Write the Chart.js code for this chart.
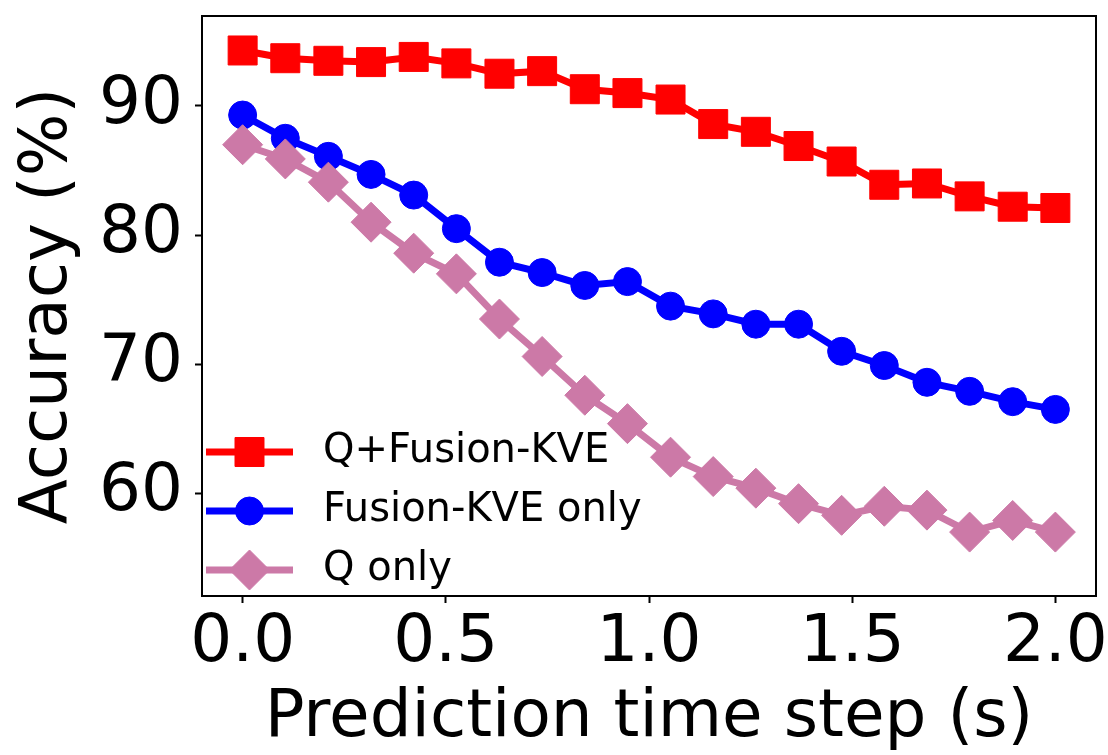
<!DOCTYPE html>
<html lang="en">
<head>
  <meta charset="UTF-8" />
  <title>Accuracy vs prediction time step</title>
  <script src="https://cdn.jsdelivr.net/npm/chart.js"></script>
  <style>
    body { margin: 0; background: #fff; }
    #wrap { width: 1108px; height: 755px; }
  </style>
</head>
<body>
<div id="wrap"><canvas id="accChart" width="1108" height="755"></canvas></div>

<script>
// data
const timeSteps = [0.0, 0.105, 0.211, 0.316, 0.421, 0.526, 0.632, 0.737, 0.842, 0.947,
                   1.053, 1.158, 1.263, 1.368, 1.474, 1.579, 1.684, 1.789, 1.895, 2.0];
const qFusion   = [94.3, 93.7, 93.5, 93.4, 93.8, 93.3, 92.5, 92.7, 91.3, 91.0,
                   90.5, 88.6, 88.0, 86.9, 85.7, 83.9, 84.0, 83.0, 82.2, 82.1];
const fusionOnly = [89.3, 87.5, 86.1, 84.7, 83.1, 80.5, 77.9, 77.1, 76.1, 76.4,
                    74.5, 73.9, 73.1, 73.1, 71.0, 69.9, 68.6, 67.9, 67.1, 66.5];
const qOnly     = [87.0, 85.9, 84.1, 81.0, 78.6, 77.0, 73.5, 70.6, 67.6, 65.4,
                   62.8, 61.3, 60.4, 59.2, 58.3, 59.0, 58.7, 57.0, 57.9, 57.0];
const seriesNames = ['Q+Fusion-KVE', 'Fusion-KVE only', 'Q only'];
const xTicks = [0, 0.5, 1.0, 1.5, 2.0];
const yTicks = [60, 70, 80, 90];
const xMin = -0.1, xMax = 2.1;
const yMin = 52.05, yMax = 96.97;

const FONT = 'DejaVu Sans';

function pts(ys) {
  return timeSteps.map((x, i) => ({ x: x, y: ys[i] }));
}

function series(label, ys, color, style, radius, order) {
  return {
    label: label,
    data: pts(ys),
    borderColor: color,
    backgroundColor: color,
    borderWidth: 7,
    pointStyle: style,
    pointRadius: radius,
    pointHoverRadius: radius,
    pointBorderWidth: 1,
    pointBorderColor: color,
    pointBackgroundColor: color,
    tension: 0,
    clip: false,
    order: order
  };
}

// frame + legend with line-through-marker handles, like matplotlib
const framePlugin = {
  id: 'frameAndLegend',
  afterDraw(chart) {
    const ctx = chart.ctx;
    const a = chart.chartArea;
    ctx.save();
    ctx.strokeStyle = '#000';
    ctx.lineWidth = 2;
    ctx.strokeRect(a.left, a.top, a.right - a.left, a.bottom - a.top);

    chart.data.datasets.forEach((ds, i) => {
      const cy = 452 + i * 59;
      ctx.strokeStyle = ds.borderColor;
      ctx.lineWidth = ds.borderWidth;
      ctx.beginPath();
      ctx.moveTo(206, cy);
      ctx.lineTo(293, cy);
      ctx.stroke();
      ctx.fillStyle = ds.backgroundColor;
      ctx.lineWidth = 1;
      Chart.helpers.drawPoint(ctx, {
        pointStyle: ds.pointStyle, radius: ds.pointRadius, rotation: 0, borderWidth: 1
      }, 249.5, cy);
      ctx.fillStyle = '#000';
      ctx.font = '40px "' + FONT + '"';
      ctx.textBaseline = 'middle';
      ctx.textAlign = 'left';
      ctx.fillText(ds.label, 323, cy);
    });
    ctx.restore();
  }
};

new Chart(document.getElementById('accChart'), {
  type: 'line',
  data: {
    datasets: [
      series(seriesNames[0], qFusion, '#ff0000', 'rect', 20.5, 2),
      series(seriesNames[1], fusionOnly, '#0000ff', 'circle', 14, 1),
      series(seriesNames[2], qOnly, '#cc79a7', 'rectRot', 20, 0)
    ]
  },
  options: {
    responsive: false,
    animation: false,
    layout: { autoPadding: false, padding: { top: 16, right: 12, left: 0, bottom: 0 } },
    plugins: { legend: { display: false }, tooltip: { enabled: false } },
    scales: {
      x: {
        type: 'linear',
        min: xMin,
        max: xMax,
        afterBuildTicks: s => { s.ticks = xTicks.map(v => ({ value: v })); },
        afterFit: s => { s.height = 159; s.paddingLeft = 0; s.paddingRight = 0; },
        grid: { drawOnChartArea: false, drawTicks: true, tickLength: 7, tickWidth: 2, tickColor: '#000' },
        border: { display: true, color: '#000', width: 2 },
        ticks: {
          color: '#000',
          padding: 1,
          maxRotation: 0,
          font: { family: FONT, size: 66 },
          callback: v => Number(v).toFixed(1)
        },
        title: {
          display: true,
          text: 'Prediction time step (s)',
          color: '#000',
          font: { family: FONT, size: 66, lineHeight: 1 },
          padding: { top: 0, bottom: 3 }
        }
      },
      y: {
        min: yMin,
        max: yMax,
        afterBuildTicks: s => { s.ticks = yTicks.map(v => ({ value: v })); },
        afterFit: s => { s.width = 202; s.paddingTop = 0; s.paddingBottom = 0; },
        grid: { drawOnChartArea: false, drawTicks: true, tickLength: 7, tickWidth: 2, tickColor: '#000' },
        border: { display: true, color: '#000', width: 2 },
        ticks: {
          color: '#000',
          padding: 12,
          font: { family: FONT, size: 66 },
          callback: v => String(Math.round(v))
        },
        title: {
          display: true,
          text: 'Accuracy (%)',
          color: '#000',
          font: { family: FONT, size: 66, lineHeight: 1.2 },
          padding: { top: 9, bottom: 0 }
        }
      }
    }
  },
  plugins: [framePlugin]
});
</script>
</body>
</html>
